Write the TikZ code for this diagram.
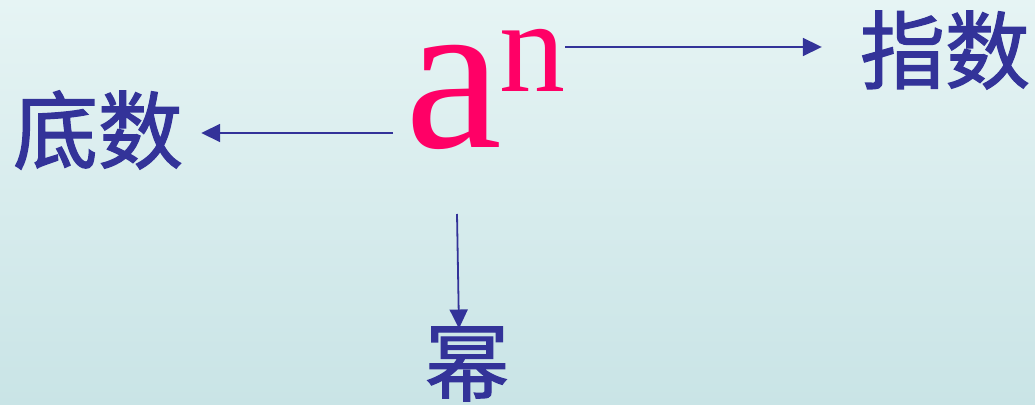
\documentclass[tikz,border=0pt]{standalone}
\usepackage{fontspec}
\setmainfont{Liberation Serif}
\newfontfamily\cjk[FakeBold=1.5]{Noto Sans CJK SC}
\usetikzlibrary{arrows.meta,calc}
\definecolor{txtblue}{HTML}{333399}
\definecolor{pink}{HTML}{FF0066}
\definecolor{bgtop}{HTML}{E6F4F4}
\definecolor{bgbot}{HTML}{C9E4E6}
\tikzset{
  lbl/.style={inner sep=0pt, text=txtblue, font=\cjk\fontsize{85}{85}\selectfont},
  arr/.style={draw=txtblue, line width=1.8pt, -{Triangle[length=19pt,width=18pt]}},
}
\begin{document}
\begin{tikzpicture}[x=1pt,y=1pt]
\shade[top color=bgtop, bottom color=bgbot] (0,0) rectangle (1035,404);
\useasboundingbox (0,0) rectangle (1035,404);
\node[inner sep=0pt, anchor=base, text=pink, font=\fontsize{218}{218}\selectfont] (a) at (454,256) {a};
\node[inner sep=0pt, anchor=base, text=pink, font=\fontsize{132}{132}\selectfont] (n) at (532,312) {n};
\node[lbl] (di) at (98,274) {底数};
\node[lbl] (zhi) at (945,354) {指数};
\node[lbl] (mi) at (467,40) {幂};
\coordinate (aL) at (393,271);
\coordinate (nR) at (565,357);
\coordinate (aB) at (457,190);
\draw[arr] (aL) -- ($(di.east |- aL)+(18,0)$);
\draw[arr] (nR) -- ($(zhi.west |- nR)+(-38,0)$);
\draw[arr] (aB) -- ($(mi.north)+(-8,-2)$);
\end{tikzpicture}
\end{document}
